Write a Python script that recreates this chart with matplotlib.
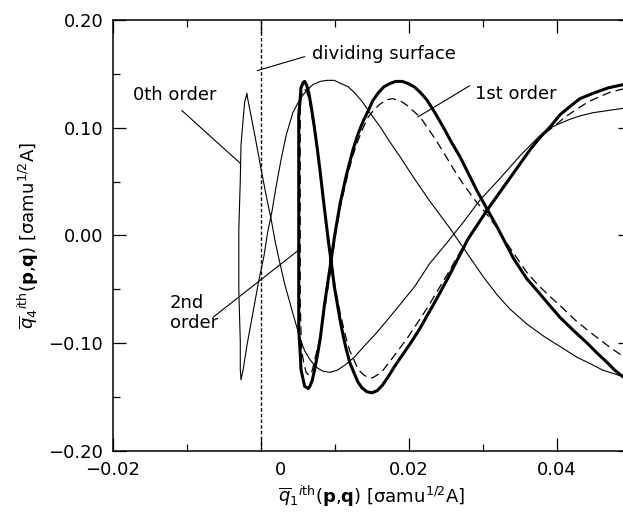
import matplotlib
matplotlib.use("Agg")
import matplotlib.pyplot as plt
from matplotlib.ticker import MultipleLocator, FixedLocator
from matplotlib.transforms import ScaledTranslation

plt.rcParams['font.family'] = ['DejaVu Sans']
plt.rcParams['font.size'] = 13
plt.rcParams['mathtext.fontset'] = 'dejavusans'

# Trajectory projections onto (q1, q4) for successive normal-form orders
order0_q1 = [0.0500, 0.0489, 0.0469, 0.0449, 0.0431, 0.0418, 0.0404, 0.0391, 0.0381, 0.0373,
             0.0350, 0.0323, 0.0296, 0.0273, 0.0251, 0.0228, 0.0208, 0.0188, 0.0170, 0.0154,
             0.0139, 0.0126, 0.0114, 0.0103, 0.0093, 0.0084, 0.0074, 0.0066, 0.0059, 0.0053,
             0.0045, 0.0032, 0.0024, 0.0019, 0.0014, 0.0007, 0.0000, -0.0007, -0.0014, -0.0018,
             -0.0019, -0.0022, -0.0024, -0.0027, -0.0028, -0.0030, -0.0030, -0.0028, -0.0028, -0.0027,
             -0.0024, -0.0019, -0.0011, -0.0003, 0.0004, 0.0009, 0.0015, 0.0020, 0.0027, 0.0034,
             0.0043, 0.0053, 0.0061, 0.0070, 0.0080, 0.0089, 0.0099, 0.0108, 0.0118, 0.0127,
             0.0136, 0.0147, 0.0161, 0.0174, 0.0188, 0.0208, 0.0228, 0.0255, 0.0276, 0.0300,
             0.0319, 0.0336, 0.0359, 0.0381, 0.0404, 0.0427, 0.0445, 0.0462, 0.0476, 0.0489,
             0.0500]
order0_q4 = [0.119, 0.118, 0.116, 0.114, 0.111, 0.108, 0.104, 0.100, 0.095, 0.090,
             0.074, 0.053, 0.033, 0.012, -0.007, -0.026, -0.047, -0.064, -0.079, -0.092,
             -0.103, -0.113, -0.120, -0.125, -0.127, -0.126, -0.122, -0.115, -0.107, -0.096,
             -0.077, -0.045, -0.021, -0.005, 0.014, 0.037, 0.062, 0.088, 0.113, 0.127,
             0.132, 0.124, 0.109, 0.084, 0.051, 0.005, -0.051, -0.098, -0.124, -0.134,
             -0.124, -0.102, -0.072, -0.042, -0.019, 0.003, 0.023, 0.044, 0.070, 0.093,
             0.114, 0.127, 0.134, 0.140, 0.143, 0.144, 0.144, 0.141, 0.138, 0.132,
             0.125, 0.114, 0.101, 0.087, 0.073, 0.052, 0.032, 0.007, -0.014, -0.038,
             -0.055, -0.068, -0.082, -0.093, -0.103, -0.113, -0.119, -0.125, -0.128, -0.131,
             -0.133]

order1_q1 = [0.0500, 0.0489, 0.0472, 0.0458, 0.0442, 0.0424, 0.0411, 0.0397, 0.0386, 0.0377,
             0.0361, 0.0332, 0.0303, 0.0276, 0.0251, 0.0224, 0.0197, 0.0185, 0.0174, 0.0165,
             0.0158, 0.0151, 0.0145, 0.0138, 0.0131, 0.0126, 0.0120, 0.0116, 0.0112, 0.0107,
             0.0101, 0.0096, 0.0091, 0.0084, 0.0080, 0.0076, 0.0072, 0.0068, 0.0065, 0.0062,
             0.0059, 0.0057, 0.0054, 0.0053, 0.0053, 0.0053, 0.0053, 0.0054, 0.0055, 0.0058,
             0.0061, 0.0065, 0.0068, 0.0070, 0.0073, 0.0077, 0.0081, 0.0088, 0.0095, 0.0101,
             0.0108, 0.0116, 0.0124, 0.0131, 0.0138, 0.0145, 0.0153, 0.0161, 0.0170, 0.0178,
             0.0188, 0.0197, 0.0205, 0.0215, 0.0224, 0.0235, 0.0246, 0.0259, 0.0273, 0.0289,
             0.0305, 0.0319, 0.0332, 0.0346, 0.0359, 0.0373, 0.0388, 0.0404, 0.0427, 0.0449,
             0.0472, 0.0489, 0.0500]
order1_q4 = [0.138, 0.136, 0.133, 0.129, 0.124, 0.116, 0.110, 0.102, 0.096, 0.090,
             0.077, 0.050, 0.021, -0.007, -0.037, -0.068, -0.096, -0.107, -0.117, -0.125,
             -0.129, -0.132, -0.132, -0.129, -0.124, -0.116, -0.107, -0.098, -0.087, -0.072,
             -0.051, -0.028, -0.003, 0.035, 0.056, 0.077, 0.098, 0.114, 0.126, 0.133,
             0.136, 0.135, 0.129, 0.118, 0.079, -0.005, -0.060, -0.088, -0.107, -0.119,
             -0.127, -0.130, -0.128, -0.123, -0.114, -0.103, -0.090, -0.060, -0.028, 0.002,
             0.029, 0.053, 0.074, 0.088, 0.100, 0.110, 0.117, 0.122, 0.126, 0.127,
             0.125, 0.121, 0.116, 0.110, 0.101, 0.090, 0.078, 0.063, 0.048, 0.033,
             0.020, 0.007, -0.007, -0.021, -0.034, -0.045, -0.055, -0.065, -0.080, -0.092,
             -0.104, -0.112, -0.115]

order2_q1 = [0.0500, 0.0489, 0.0469, 0.0449, 0.0431, 0.0418, 0.0404, 0.0391, 0.0377, 0.0364,
             0.0334, 0.0305, 0.0280, 0.0253, 0.0238, 0.0215, 0.0203, 0.0192, 0.0181, 0.0172,
             0.0164, 0.0157, 0.0150, 0.0143, 0.0136, 0.0131, 0.0126, 0.0120, 0.0115, 0.0111,
             0.0107, 0.0103, 0.0099, 0.0095, 0.0091, 0.0084, 0.0080, 0.0076, 0.0072, 0.0068,
             0.0065, 0.0062, 0.0059, 0.0057, 0.0054, 0.0053, 0.0051, 0.0051, 0.0051, 0.0051,
             0.0051, 0.0053, 0.0054, 0.0057, 0.0059, 0.0064, 0.0066, 0.0069, 0.0072, 0.0076,
             0.0080, 0.0086, 0.0093, 0.0100, 0.0107, 0.0115, 0.0124, 0.0131, 0.0138, 0.0145,
             0.0151, 0.0158, 0.0166, 0.0174, 0.0182, 0.0191, 0.0199, 0.0207, 0.0215, 0.0224,
             0.0235, 0.0246, 0.0257, 0.0269, 0.0293, 0.0319, 0.0341, 0.0359, 0.0373, 0.0389,
             0.0404, 0.0422, 0.0441, 0.0454, 0.0468, 0.0478, 0.0489, 0.0500]
order2_q4 = [0.141, 0.140, 0.137, 0.132, 0.127, 0.120, 0.112, 0.101, 0.091, 0.080,
             0.051, 0.023, -0.003, -0.039, -0.058, -0.086, -0.099, -0.110, -0.121, -0.131,
             -0.139, -0.144, -0.146, -0.145, -0.141, -0.136, -0.128, -0.118, -0.105, -0.093,
             -0.079, -0.063, -0.047, -0.025, -0.005, 0.035, 0.059, 0.081, 0.101, 0.119,
             0.131, 0.139, 0.143, 0.142, 0.137, 0.127, 0.112, 0.079, -0.005, -0.060,
             -0.088, -0.109, -0.124, -0.134, -0.140, -0.142, -0.140, -0.135, -0.126, -0.112,
             -0.096, -0.063, -0.031, 0.002, 0.030, 0.055, 0.079, 0.094, 0.106, 0.116,
             0.125, 0.132, 0.138, 0.141, 0.143, 0.143, 0.141, 0.138, 0.133, 0.126,
             0.114, 0.101, 0.087, 0.073, 0.040, 0.008, -0.021, -0.040, -0.051, -0.064,
             -0.076, -0.088, -0.100, -0.109, -0.118, -0.125, -0.131, -0.137]

dividing_surface_q1 = 0.0

x_ticks = [-0.02, 0.0, 0.02, 0.04]
x_tick_labels = ['\u22120.02', '0', '0.02', '0.04']
y_ticks = [-0.20, -0.10, 0.00, 0.10, 0.20]
y_tick_labels = ['\u22120.20', '\u22120.10', '0.00', '0.10', '0.20']

fig = plt.figure(figsize=(6.23, 5.17), dpi=100)
ax = fig.add_axes([0.18138, 0.12766, 0.83146, 0.83366])

ax.plot(order0_q1, order0_q4, color='black', lw=0.8, solid_joinstyle='round')
ax.plot(order1_q1, order1_q4, color='black', lw=0.9, dashes=(7, 4))
ax.plot(order2_q1, order2_q4, color='black', lw=2.2, solid_joinstyle='round')
ax.axvline(dividing_surface_q1, color='black', lw=1.0, dashes=(2.5, 1.6))

ax.set_xlim(-0.02, 0.05)
ax.set_ylim(-0.20, 0.20)
ax.xaxis.set_major_locator(FixedLocator(x_ticks))
ax.set_xticklabels(x_tick_labels)
ax.xaxis.set_minor_locator(MultipleLocator(0.01))
ax.yaxis.set_major_locator(FixedLocator(y_ticks))
ax.set_yticklabels(y_tick_labels)
ax.yaxis.set_minor_locator(MultipleLocator(0.05))
ax.tick_params(which='both', direction='in', top=True, right=True, width=0.9)
ax.tick_params(which='major', length=9.4, pad=7, labelsize=13)
ax.tick_params(which='minor', length=5.0)
for sp in ax.spines.values():
    sp.set_linewidth(1.1)

# the zero label sits just right of the dividing-surface line
zero_lbl = ax.xaxis.get_major_ticks()[1].label1
zero_lbl.set_transform(zero_lbl.get_transform() + ScaledTranslation(0.2, 0, fig.dpi_scale_trans))

ax.set_xlabel(r'$\overline{q}_1{}^{i\mathrm{th}}(\mathbf{p}{,}\mathbf{q})$ [σamu$^{1/2}$A]',
              fontsize=13, labelpad=4)
ax.set_ylabel(r'$\overline{q}_4{}^{i\mathrm{th}}(\mathbf{p}{,}\mathbf{q})$ [σamu$^{1/2}$A]',
              fontsize=13, labelpad=5)

line_kw = dict(arrowstyle='-', color='black', lw=0.8, shrinkA=0, shrinkB=0)

ax.text(0.0069, 0.1637, 'dividing surface', ha='left', va='baseline', fontsize=13)
ax.annotate('', xy=(-0.0005, 0.153), xytext=(0.0059, 0.166), arrowprops=line_kw)

ax.text(0.0289, 0.127, '1st order', ha='left', va='baseline', fontsize=13)
ax.annotate('', xy=(0.0212, 0.110), xytext=(0.0282, 0.139), arrowprops=line_kw)

ax.text(-0.0173, 0.1256, '0th order', ha='left', va='baseline', fontsize=13)
ax.annotate('', xy=(-0.0028, 0.067), xytext=(-0.0107, 0.116), arrowprops=line_kw)

ax.text(-0.0123, -0.0856, '2nd\norder', ha='left', va='baseline', fontsize=13,
        linespacing=1.1)
ax.annotate('', xy=(0.0050, -0.014), xytext=(-0.0065, -0.076), arrowprops=line_kw)

fig.savefig('out.png', dpi=100)
